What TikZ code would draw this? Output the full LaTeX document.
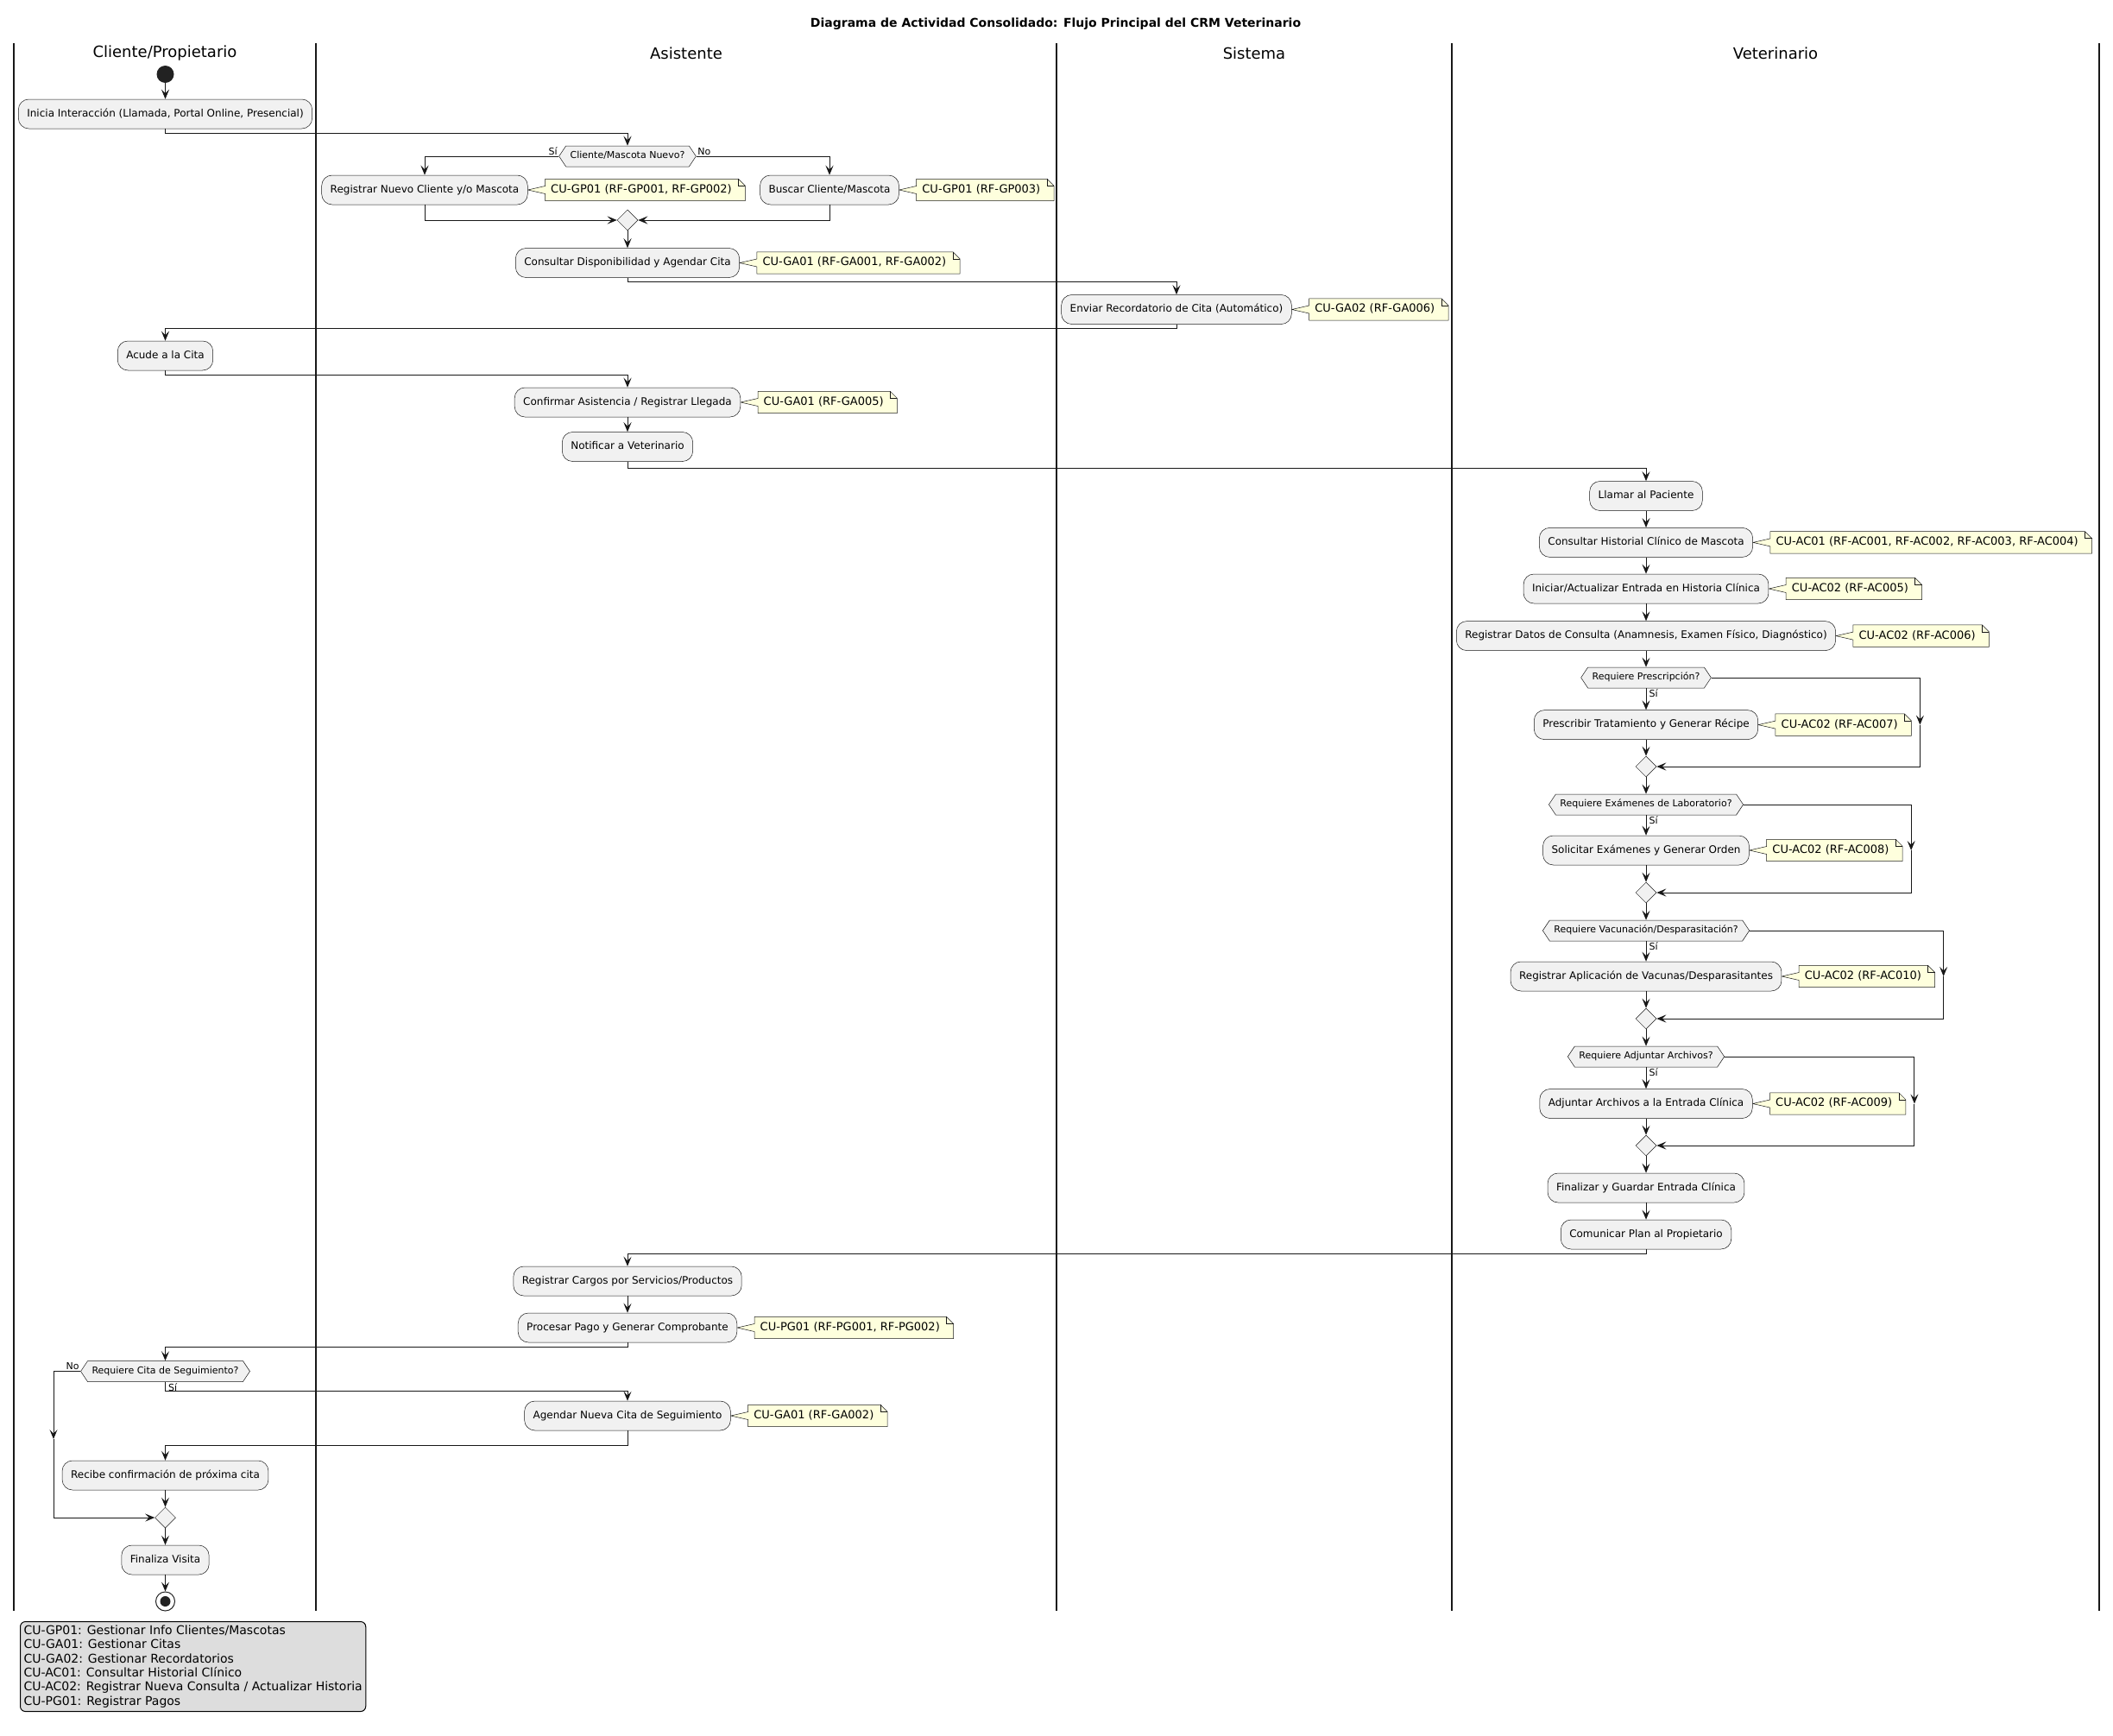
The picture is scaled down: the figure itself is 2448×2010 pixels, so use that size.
\documentclass[tikz,border=0pt]{standalone}
\usepackage{fontspec}
\setmainfont{DejaVu Sans}
\usetikzlibrary{arrows.meta,shapes.geometric,shapes.symbols,calc,backgrounds}

\definecolor{actfill}{HTML}{F1F1F1}
\definecolor{ink}{HTML}{181818}
\definecolor{notefill}{HTML}{FEFFDD}
\definecolor{dot}{HTML}{222222}
\definecolor{legendfill}{HTML}{DDDDDD}

\tikzset{
  flow/.style={draw=ink, line width=1pt, -{Stealth[length=11pt,width=9pt,inset=4.5pt]}},
  act/.style={rectangle, rounded corners=12pt, draw=ink, fill=actfill, line width=0.5pt,
    minimum height=34pt, inner xsep=10pt, inner ysep=0pt,
    font=\fontsize{12pt}{14pt}\selectfont, text height=8.8pt, text depth=2.4pt},
  dec/.style={signal, signal to=east and west, signal pointer angle=112.6, draw=ink, fill=actfill,
    line width=0.5pt, minimum height=24pt, inner xsep=5pt, inner ysep=0pt,
    font=\fontsize{11pt}{13pt}\selectfont, text height=8pt, text depth=2.2pt},
  merge/.style={diamond, draw=ink, fill=actfill, line width=0.5pt,
    minimum width=24pt, minimum height=24pt, inner sep=0pt},
  notetxt/.style={inner xsep=0pt, inner ysep=0pt, minimum height=25pt,
    font=\fontsize{13pt}{15pt}\selectfont, text height=9.5pt, text depth=2.6pt},
  noteshape/.style={draw=ink, fill=notefill, line width=0.5pt},
  lbl/.style={font=\fontsize{11pt}{13pt}\selectfont, inner sep=1.5pt},
  lane/.style={draw=ink, line width=1.5pt},
  lanehead/.style={font=\fontsize{18pt}{21pt}\selectfont},
}

% yellow note attached to the right of an action: name, action, text
\newcommand\cunote[3]{%
  \node[notetxt, anchor=west] (#1) at ([xshift=20pt]#2.east) {\hspace*{6.5pt}#3\hspace*{15.5pt}};
  \begin{pgfonlayer}{background}
    \filldraw[noteshape] (#1.north west) -- ([xshift=-8pt]#1.north east)
      -- ([yshift=-8pt]#1.north east) -- (#1.south east) -- (#1.south west)
      -- ([yshift=-4.5pt]#1.west) -- (#2.east) -- ([yshift=4.5pt]#1.west) -- cycle;
    \draw[noteshape, fill=none] ([xshift=-8pt]#1.north east)
      -- ([xshift=-8pt,yshift=-8pt]#1.north east) -- ([yshift=-8pt]#1.north east);
  \end{pgfonlayer}}

\begin{document}
\begin{tikzpicture}[x=1pt, y=-1pt]
\useasboundingbox (0,0) rectangle (2448,2010);
\begin{pgfonlayer}{background}
  \fill[white] (0,0) rectangle (2448,2010);
  \foreach \x in {16,366,1224,1682,2432} \draw[lane] (\x,50) -- (\x,1866);
\end{pgfonlayer}

% title and swimlane headers
\node[font=\bfseries\fontsize{14pt}{17pt}\selectfont] (title) at (1223,28)
  {Diagrama de Actividad Consolidado: Flujo Principal del CRM Veterinario};
\node[lanehead] (h1) at (191,62) {Cliente/Propietario};
\node[lanehead] (h2) at (795,62) {Asistente};
\node[lanehead] (h3) at (1453,62) {Sistema};
\node[lanehead] (h4) at (2057,62) {Veterinario};

% reception and scheduling
\node[circle, fill=dot, minimum size=20pt, inner sep=0pt] (start) at (191.5,86) {};
\node[act] (a1) at (191.5,132) {Inicia Interacción (Llamada, Portal Online, Presencial)};
\node[dec] (d1) at (727,181) {Cliente/Mascota Nuevo?};
\node[act] (a2) at (492,220) {Registrar Nuevo Cliente y/o Mascota};
\cunote{n2}{a2}{CU-GP01 (RF-GP001, RF-GP002)}
\node[act] (a3) at (961,220) {Buscar Cliente/Mascota};
\cunote{n3}{a3}{CU-GP01 (RF-GP003)}
\node[merge] (m1) at (727,255) {};
\node[act] (a4) at (727,304.5) {Consultar Disponibilidad y Agendar Cita};
\cunote{n4}{a4}{CU-GA01 (RF-GA001, RF-GA002)}
\node[act] (a5) at (1363,358.5) {Enviar Recordatorio de Cita (Automático)};
\cunote{n5}{a5}{CU-GA02 (RF-GA006)}
\node[act] (a6) at (191.5,412) {Acude a la Cita};
\node[act] (a7) at (727,466) {Confirmar Asistencia / Registrar Llegada};
\cunote{n7}{a7}{CU-GA01 (RF-GA005)}
\node[act] (a8) at (727,517.5) {Notificar a Veterinario};

% consultation
\node[act] (v1) at (1907,574.5) {Llamar al Paciente};
\node[act] (v2) at (1907,628.4) {Consultar Historial Clínico de Mascota};
\cunote{nv2}{v2}{CU-AC01 (RF-AC001, RF-AC002, RF-AC003, RF-AC004)}
\node[act] (v3) at (1907,682) {Iniciar/Actualizar Entrada en Historia Clínica};
\cunote{nv3}{v3}{CU-AC02 (RF-AC005)}
\node[act] (v4) at (1907,736.6) {Registrar Datos de Consulta (Anamnesis, Examen Físico, Diagnóstico)};
\cunote{nv4}{v4}{CU-AC02 (RF-AC006)}
\node[dec] (vd1) at (1907,785) {Requiere Prescripción?};
\node[act] (v5) at (1907,839.6) {Prescribir Tratamiento y Generar Récipe};
\cunote{nv5}{v5}{CU-AC02 (RF-AC007)}
\node[merge] (vm1) at (1907,888) {};
\node[dec] (vd2) at (1907,932) {Requiere Exámenes de Laboratorio?};
\node[act] (v6) at (1907,985) {Solicitar Exámenes y Generar Orden};
\cunote{nv6}{v6}{CU-AC02 (RF-AC008)}
\node[merge] (vm2) at (1907,1034) {};
\node[dec] (vd3) at (1907,1078) {Requiere Vacunación/Desparasitación?};
\node[act] (v7) at (1907,1131) {Registrar Aplicación de Vacunas/Desparasitantes};
\cunote{nv7}{v7}{CU-AC02 (RF-AC010)}
\node[merge] (vm3) at (1907,1180) {};
\node[dec] (vd4) at (1907,1224) {Requiere Adjuntar Archivos?};
\node[act] (v8) at (1907,1278.5) {Adjuntar Archivos a la Entrada Clínica};
\cunote{nv8}{v8}{CU-AC02 (RF-AC009)}
\node[merge] (vm4) at (1907,1327) {};
\node[act] (v9) at (1907,1376) {Finalizar y Guardar Entrada Clínica};
\node[act] (v10) at (1907,1430) {Comunicar Plan al Propietario};

% billing and follow-up
\node[act] (b1) at (727,1484) {Registrar Cargos por Servicios/Productos};
\node[act] (b2) at (727,1538) {Procesar Pago y Generar Comprobante};
\cunote{nb2}{b2}{CU-PG01 (RF-PG001, RF-PG002)}
\node[dec] (bd) at (191.5,1588.5) {Requiere Cita de Seguimiento?};
\node[act] (b3) at (727,1640) {Agendar Nueva Cita de Seguimiento};
\cunote{nb3}{b3}{CU-GA01 (RF-GA002)}
\node[act] (b4) at (191.5,1709) {Recibe confirmación de próxima cita};
\node[merge] (bm) at (191.5,1758) {};
\node[act] (b5) at (191.5,1807) {Finaliza Visita};
\node[circle, draw=dot, line width=1pt, fill=white, minimum size=22pt, inner sep=0pt] (end) at (191.5,1855) {};
\fill[dot] (end.center) circle (6pt);

% connectors
\draw[flow] (start) -- (a1);
\draw[flow] (a1.south) -- ++(0,5.3) -| (d1.north);
\draw[flow] (d1.west) -| (a2.north);
\draw[flow] (d1.east) -| (a3.north);
\node[lbl, anchor=south east] at (d1.west) {Sí};
\node[lbl, anchor=south west] at (d1.east) {No};
\draw[flow] (a2.south) |- (m1.west);
\draw[flow] (a3.south) |- (m1.east);
\draw[flow] (m1.south) -- (a4.north);
\draw[flow] (a4.south) -- ++(0,4.8) -| (a5.north);
\draw[flow] (a5.south) -- ++(0,4.5) -| (a6.north);
\draw[flow] (a6.south) -- ++(0,5.3) -| (a7.north);
\draw[flow] (a7.south) -- (a8.north);
\draw[flow] (a8.south) -- ++(0,7.5) -| (v1.north);
\draw[flow] (v1) -- (v2);
\draw[flow] (v2) -- (v3);
\draw[flow] (v3) -- (v4);
\draw[flow] (v4.south) -- (vd1.north);

% optional steps of the consultation
\foreach \d/\s/\m/\n in {vd1/v5/vm1/nv5, vd2/v6/vm2/nv6, vd3/v7/vm3/nv7, vd4/v8/vm4/nv8} {
  \draw[flow] (\d.south) -- (\s.north);
  \node[lbl, anchor=north west] at ([xshift=2pt]\d.south) {Sí};
  \draw[flow] (\s.south) -- (\m.north);
  \coordinate (k\d) at ($(\n.east)+(10,0)$);
  \draw[flow] (\d.east) -| (k\d);
  \draw[flow] (k\d) |- (\m.east);
}
\draw[flow] (vm1.south) -- (vd2.north);
\draw[flow] (vm2.south) -- (vd3.north);
\draw[flow] (vm3.south) -- (vd4.north);
\draw[flow] (vm4.south) -- (v9.north);
\draw[flow] (v9) -- (v10);

\draw[flow] (v10.south) -- ++(0,5.3) -| (b1.north);
\draw[flow] (b1) -- (b2);
\draw[flow] (b2.south) -- ++(0,5) -| (bd.north);
\draw[flow] (bd.south) -- ++(0,10.5) -| (b3.north);
\node[lbl, anchor=north west] at ([xshift=2pt]bd.south) {Sí};
\coordinate (kno) at (62,1667);
\draw[flow] (bd.west) -| (kno);
\draw[flow] (kno) |- (bm.west);
\node[lbl, anchor=south east] at (bd.west) {No};
\draw[flow] (b3.south) -- ++(0,17.4) -| (b4.north);
\draw[flow] (b4) -- (bm);
\draw[flow] (bm) -- (b5);
\draw[flow] (b5) -- (end);

% legend
\node[draw=black, fill=legendfill, line width=1pt, rounded corners=6pt, anchor=north west,
  align=left, inner xsep=4pt, inner ysep=4.5pt, font=\fontsize{14pt}{16.3pt}\selectfont]
  (legend) at (23,1878) {CU-GP01: Gestionar Info Clientes/Mascotas\\
CU-GA01: Gestionar Citas\\
CU-GA02: Gestionar Recordatorios\\
CU-AC01: Consultar Historial Clínico\\
CU-AC02: Registrar Nueva Consulta / Actualizar Historia\\
CU-PG01: Registrar Pagos};
\end{tikzpicture}
\end{document}
